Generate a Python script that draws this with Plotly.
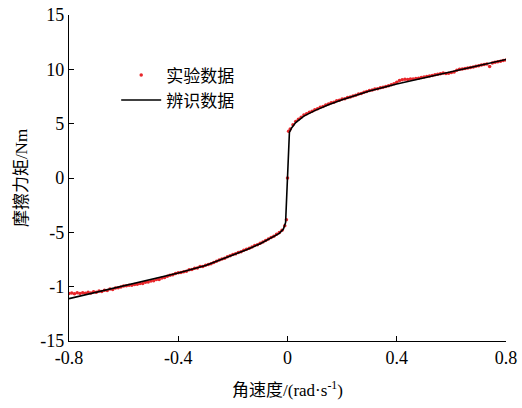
import plotly.graph_objects as go

exp_x = [-0.80, -0.79, -0.78, -0.77, -0.76, -0.75, -0.74, -0.73, -0.72, -0.71,
         -0.70, -0.69, -0.68, -0.67, -0.66, -0.65, -0.64, -0.63, -0.62, -0.61,
         -0.60, -0.59, -0.58, -0.57, -0.56, -0.55, -0.54, -0.53, -0.52, -0.51,
         -0.50, -0.49, -0.48, -0.47, -0.46, -0.45, -0.44, -0.43, -0.42, -0.41,
         -0.40, -0.39, -0.38, -0.37, -0.36, -0.35, -0.34, -0.33, -0.32, -0.31,
         -0.30, -0.29, -0.28, -0.27, -0.26, -0.25, -0.24, -0.23, -0.22, -0.21,
         -0.20, -0.19, -0.18, -0.17, -0.16, -0.15, -0.14, -0.13, -0.12, -0.11,
         -0.10, -0.09, -0.08, -0.07, -0.06, -0.05, -0.04, -0.03, -0.02, -0.01,
         -0.004, 0.0, 0.004,
         0.01, 0.02, 0.03, 0.04, 0.05, 0.06, 0.07, 0.08, 0.09, 0.10,
         0.11, 0.12, 0.13, 0.14, 0.15, 0.16, 0.17, 0.18, 0.19, 0.20,
         0.21, 0.22, 0.23, 0.24, 0.25, 0.26, 0.27, 0.28, 0.29, 0.30,
         0.31, 0.32, 0.33, 0.34, 0.35, 0.36, 0.37, 0.38, 0.39, 0.40,
         0.41, 0.42, 0.43, 0.44, 0.45, 0.46, 0.47, 0.48, 0.49, 0.50,
         0.51, 0.52, 0.53, 0.54, 0.55, 0.56, 0.57, 0.58, 0.59, 0.60,
         0.61, 0.62, 0.63, 0.64, 0.65, 0.66, 0.67, 0.68, 0.69, 0.70,
         0.71, 0.72, 0.73, 0.74, 0.75, 0.76, 0.77, 0.78, 0.79, 0.80]
exp_y = [-10.62, -10.58, -10.66, -10.55, -10.63, -10.57, -10.60, -10.52, -10.58, -10.47,
         -10.52, -10.40, -10.45, -10.33, -10.36, -10.22, -10.25, -10.12, -10.10, -10.02,
         -9.95, -9.92, -9.88, -9.86, -9.80, -9.78, -9.70, -9.72, -9.60, -9.58,
         -9.48, -9.45, -9.35, -9.33, -9.20, -9.15, -9.05, -8.95, -8.90, -8.78,
         -8.72, -8.70, -8.62, -8.58, -8.45, -8.42, -8.30, -8.28, -8.15, -8.14,
         -8.02, -7.95, -7.88, -7.78, -7.65, -7.55, -7.45, -7.38, -7.25, -7.15,
         -7.05, -6.98, -6.86, -6.78, -6.65, -6.55, -6.46, -6.34, -6.22, -6.14,
         -6.00, -5.88, -5.75, -5.62, -5.48, -5.35, -5.18, -5.02, -4.80, -4.40,
         -3.85, 0.0, 4.30,
         4.50, 4.90, 5.20, 5.40, 5.60, 5.80, 5.92, 6.05, 6.15, 6.28,
         6.38, 6.50, 6.58, 6.72, 6.80, 6.92, 6.98, 7.10, 7.15, 7.26,
         7.30, 7.40, 7.46, 7.55, 7.62, 7.72, 7.78, 7.88, 7.95, 8.05,
         8.10, 8.18, 8.22, 8.30, 8.35, 8.42, 8.48, 8.58, 8.68, 8.82,
         8.98, 9.05, 9.08, 9.06, 9.10, 9.12, 9.16, 9.18, 9.24, 9.30,
         9.34, 9.38, 9.44, 9.50, 9.55, 9.60, 9.66, 9.62, 9.64, 9.70,
         9.76, 9.92, 10.00, 10.04, 10.08, 10.13, 10.18, 10.22, 10.28, 10.32,
         10.40, 10.44, 10.50, 10.25, 10.58, 10.65, 10.70, 10.75, 10.82, 10.85]

# Identified model curve
fit_x = [-0.80, -0.70, -0.60, -0.50, -0.40, -0.30, -0.20, -0.15, -0.10, -0.06,
         -0.03, -0.015, -0.007, 0.007, 0.015, 0.03, 0.06, 0.10, 0.15, 0.20,
         0.30, 0.40, 0.50, 0.60, 0.70, 0.80]
fit_y = [-11.10, -10.50, -9.90, -9.35, -8.75, -8.05, -7.10, -6.60, -6.05, -5.55,
         -5.10, -4.70, -4.10, 4.20, 4.60, 5.10, 5.70, 6.20, 6.75, 7.20,
         8.00, 8.65, 9.20, 9.75, 10.30, 10.90]

x_ticks = [-0.8, -0.4, 0, 0.4, 0.8]
x_ticktext = ["-0.8", "-0.4", "0", "0.4", "0.8"]
y_ticks = [-15, -10, -5, 0, 5, 10, 15]
y_ticktext = ["-15", "-1", "-5", "0", "5", "10", "15"]

SERIF = "Liberation Serif"
MIXED = "Liberation Serif, Noto Sans CJK SC"

fig = go.Figure()
fig.add_trace(go.Scatter(
    x=exp_x, y=exp_y, mode="markers", name="实验数据", legendgroup="a",
    marker=dict(color="#e8262a", size=3.5, line=dict(width=0)),
))
fig.add_trace(go.Scatter(
    x=fit_x, y=fit_y, mode="lines", name="辨识数据", legendgroup="b",
    line=dict(color="black", width=1.6),
))

fig.update_layout(
    width=522, height=408,
    margin=dict(l=69, r=16, t=15, b=67, autoexpand=False),
    paper_bgcolor="white", plot_bgcolor="white",
    font=dict(family=MIXED, size=17, color="black"),
    showlegend=True,
    legend=dict(x=0.108, y=0.87, xanchor="left", yanchor="top",
                bgcolor="rgba(0,0,0,0)", borderwidth=0,
                font=dict(family="Noto Sans CJK SC", size=17),
                itemwidth=40, tracegroupgap=3, traceorder="normal"),
    xaxis=dict(range=[-0.8, 0.8], tickvals=x_ticks, ticktext=x_ticktext,
               ticks="inside", ticklen=5, tickwidth=1, tickcolor="black",
               tickfont=dict(family=SERIF, size=18),
               showline=True, linecolor="black", linewidth=1.2,
               showgrid=False, zeroline=False, mirror=False, automargin=False,
               title=dict(text="角速度/(rad·s<sup>-1</sup>)", standoff=17,
                          font=dict(family=MIXED, size=17))),
    yaxis=dict(range=[-15, 15], tickvals=y_ticks, ticktext=y_ticktext,
               ticks="inside", ticklen=5, tickwidth=1, tickcolor="black",
               tickfont=dict(family=SERIF, size=18),
               showline=True, linecolor="black", linewidth=1.2,
               showgrid=False, zeroline=False, mirror=False, automargin=False,
               title=dict(text="摩擦力矩/Nm", standoff=8,
                          font=dict(family=MIXED, size=17))),
)

fig.write_html("out.html")
